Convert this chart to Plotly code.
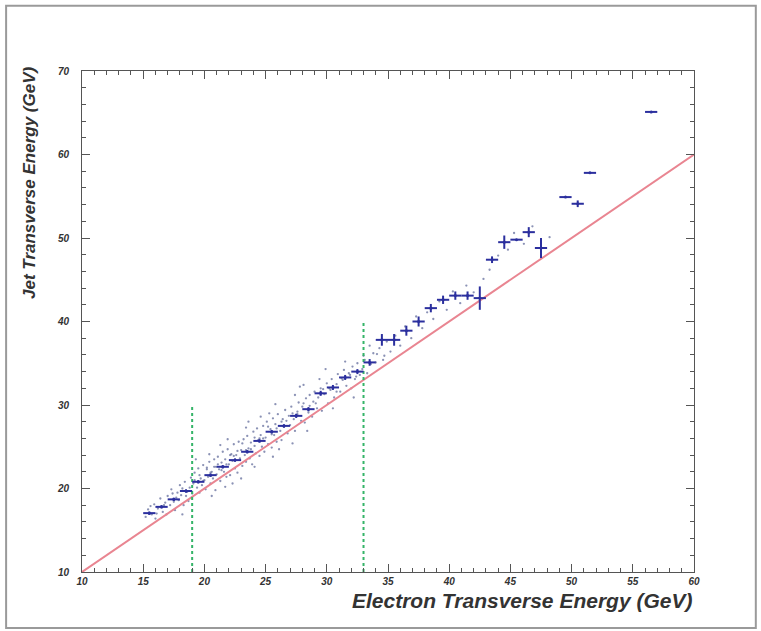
import plotly.graph_objects as go

# Profile: mean jet ET per 1 GeV electron-ET bin
prof_x = [15.5, 16.5, 17.5, 18.5, 19.5, 20.5, 21.5, 22.5, 23.5, 24.5,
          25.5, 26.5, 27.5, 28.5, 29.5, 30.5, 31.5, 32.5, 33.5, 34.5,
          35.5, 36.5, 37.5, 38.5, 39.5, 40.5, 41.5, 42.5, 43.5, 44.5,
          45.5, 46.5, 47.5, 49.5, 50.5, 51.5, 56.5]
prof_y = [17.05, 17.8, 18.7, 19.7, 20.8, 21.6, 22.6, 23.4, 24.4, 25.7,
          26.8, 27.5, 28.7, 29.5, 31.4, 32.1, 33.3, 34.0, 35.1, 37.8,
          37.8, 38.9, 40.0, 41.6, 42.6, 43.1, 43.1, 42.8, 47.4, 49.5,
          49.8, 50.7, 48.8, 54.9, 54.1, 57.8, 65.1]
prof_ex = [0.5, 0.5, 0.5, 0.5, 0.5, 0.5, 0.5, 0.5, 0.5, 0.5,
           0.5, 0.5, 0.5, 0.5, 0.5, 0.5, 0.5, 0.5, 0.5, 0.5,
           0.5, 0.5, 0.5, 0.5, 0.5, 0.5, 0.5, 0.5, 0.5, 0.5,
           0.5, 0.5, 0.5, 0.5, 0.5, 0.5, 0.5]
prof_ey = [0.2, 0.2, 0.2, 0.2, 0.2, 0.2, 0.2, 0.2, 0.2, 0.2,
           0.2, 0.2, 0.25, 0.25, 0.3, 0.3, 0.3, 0.3, 0.4, 0.7,
           0.7, 0.6, 0.6, 0.5, 0.5, 0.5, 0.5, 1.4, 0.4, 0.8,
           0.0, 0.6, 1.2, 0.0, 0.4, 0.0, 0.0]

# Individual events (electron ET, jet ET)
dot_x = [15.2, 15.4, 15.7, 15.9, 16.0, 16.2, 16.4, 16.6, 16.8, 16.9,
         17.0, 17.2, 17.3, 17.5, 17.6, 17.8, 17.9, 18.0, 18.1, 18.3,
         18.4, 18.6, 18.7, 18.9, 18.8, 19.0, 19.1, 19.2, 19.4, 19.5,
         19.6, 19.7, 19.8, 19.9, 20.0, 20.1, 20.2, 20.3, 20.4, 20.5,
         20.6, 20.7, 20.8, 20.9, 20.95, 21.0, 21.1, 21.2, 21.3, 21.4,
         21.5, 21.6, 21.7, 21.8, 21.9, 22.0, 22.1, 22.2, 22.3, 22.4,
         22.5, 22.6, 22.7, 22.8, 22.9, 23.0, 23.1, 23.2, 23.3, 23.4,
         23.5, 23.6, 23.7, 23.8, 23.9, 24.0, 24.1, 24.2, 24.3, 24.4,
         24.5, 24.6, 24.7, 24.8, 24.9, 25.0, 25.1, 25.2, 25.4, 25.5,
         25.6, 25.7, 25.8, 25.9, 26.0, 26.2, 26.3, 26.4, 26.5, 26.6,
         26.8, 26.9, 27.0, 27.1, 27.3, 27.4, 27.6, 27.7, 27.9, 28.0,
         28.2, 28.3, 28.5, 28.6, 28.8, 28.9, 29.0, 29.2, 29.3, 29.5,
         29.6, 29.8, 30.0, 30.1, 30.3, 30.4, 30.6, 30.8, 30.9, 31.1,
         31.2, 31.4, 31.6, 31.8, 32.0, 32.1, 32.3, 32.5, 32.7, 32.9,
         33.1, 33.3, 33.6, 33.8, 34.0, 34.3, 34.6, 34.9, 35.2, 35.6,
         36.0, 36.4, 36.9, 37.3, 37.8, 38.2, 38.7, 39.2, 39.8, 40.3,
         40.9, 41.4, 42.0, 42.8, 43.3, 44.0, 44.8, 45.3, 46.1, 46.8,
         48.2, 18.2, 20.6, 22.3, 24.1, 26.1, 28.4, 30.5, 23.0, 27.2,
         32.2, 21.7, 25.6, 19.3, 21.3, 23.4, 25.3, 27.4, 29.4, 31.5,
         33.5, 28.1, 24.6,
         15.6, 16.1, 16.7, 17.4, 17.7, 18.2, 18.5, 19.2, 19.6, 19.9,
         20.2, 20.5, 20.8, 21.1, 21.4, 21.8, 22.1, 22.4, 22.7, 23.1,
         23.4, 23.8, 24.1, 24.5, 24.8, 25.2, 25.5, 25.9, 26.3, 26.7,
         27.2, 27.6, 28.1, 28.6, 29.1, 29.7, 30.2, 30.8, 31.3, 31.9,
         32.4, 33.0, 34.1, 34.7, 20.4, 21.9, 23.6, 25.8, 27.8, 29.9]
dot_y = [16.6, 17.5, 16.9, 18.1, 16.4, 17.6, 18.8, 17.2, 18.3, 16.9,
         19.1, 18.0, 19.9, 18.4, 17.4, 19.5, 18.6, 20.4, 19.2, 18.0,
         20.8, 19.6, 18.5, 21.3, 20.1, 19.4, 20.6, 21.9, 20.1, 22.4,
         19.5, 21.2, 20.4, 22.8, 21.0, 19.9, 22.3, 21.4, 23.2, 20.6,
         22.0, 21.2, 23.5, 19.8, 22.6, 21.7, 23.8, 22.3, 20.9, 23.1,
         24.4, 22.0, 23.5, 21.4, 24.7, 22.9, 21.6, 24.1, 23.3, 25.3,
         22.4, 24.0, 21.9, 25.6, 23.6, 24.6, 22.7, 25.9, 24.0, 23.2,
         26.3, 24.8, 23.6, 25.5, 22.9, 26.8, 25.1, 24.2, 27.2, 25.8,
         23.9, 26.4, 25.0, 27.5, 24.4, 26.1, 28.0, 25.3, 27.1, 24.9,
         28.4, 26.4, 27.7, 25.6, 28.9, 26.9, 25.8, 28.3, 27.4, 29.4,
         26.6, 28.7, 27.6, 29.8, 28.3, 26.9, 29.2, 30.3, 28.1, 29.8,
         27.9, 30.8, 29.1, 31.2, 28.6, 30.4, 31.6, 29.6, 30.9, 32.0,
         29.3, 31.3, 32.6, 30.2, 31.8, 33.1, 30.9, 32.5, 33.7, 31.6,
         33.2, 34.2, 32.3, 33.8, 32.0, 34.6, 33.1, 35.0, 33.6, 34.3,
         35.4, 33.8, 34.9, 36.2, 35.1, 36.8, 35.4, 37.6, 36.4, 38.3,
         37.1, 39.4, 38.0, 40.6, 39.2, 41.1, 40.3, 42.4, 41.4, 43.6,
         42.2, 44.3, 43.5, 45.1, 46.2, 47.9, 48.6, 50.6, 49.3, 51.4,
         50.1, 16.9, 19.1, 20.6, 22.6, 24.7, 26.9, 29.6, 21.2, 25.4,
         30.9, 20.2, 23.8, 23.5, 25.2, 27.3, 29.0, 31.2, 33.1, 35.2,
         37.1, 32.4, 28.6,
         17.9, 17.0, 18.0, 19.4, 18.9, 20.0, 19.1, 21.0, 21.6, 20.9,
         22.5, 21.9, 22.6, 22.9, 22.2, 22.9, 24.0, 23.9, 24.5, 25.4,
         24.6, 24.7, 26.1, 26.0, 26.0, 27.4, 26.5, 27.2, 28.0, 28.1,
         29.0, 28.9, 30.2, 29.9, 30.2, 31.9, 32.0, 31.6, 33.0, 33.6,
         33.4, 35.9, 36.1, 35.9, 24.1, 25.9, 28.0, 30.1, 32.2, 34.3]

# Reference diagonal (jet ET = electron ET) and ET cut positions
diag_x = [10, 60]
diag_y = [10, 60]
cut_x = [19, 33]
cut_top = [30, 40]

BLUE = "#2b2f9e"
font_ticks = dict(family="Liberation Sans", size=10, color="#333333",
                  weight="bold", style="italic")
font_title = dict(family="Liberation Sans", color="#333333",
                  weight="bold", style="italic")

fig = go.Figure()

fig.add_trace(go.Scatter(
    x=dot_x, y=dot_y, mode="markers",
    marker=dict(size=2.3, color="rgba(90,100,150,0.7)"),
    hoverinfo="skip", showlegend=False))

fig.add_trace(go.Scatter(
    x=diag_x, y=diag_y, mode="lines",
    line=dict(color="#e98591", width=2), showlegend=False))

for cx, ct in zip(cut_x, cut_top):
    fig.add_trace(go.Scatter(
        x=[cx, cx], y=[10, ct], mode="lines",
        line=dict(color="#35b468", width=2, dash="dot"), showlegend=False))

fig.add_trace(go.Scatter(
    x=prof_x, y=prof_y, mode="markers",
    marker=dict(size=3, color=BLUE),
    error_x=dict(type="data", array=prof_ex, color=BLUE, thickness=2, width=0),
    error_y=dict(type="data", array=prof_ey, color=BLUE, thickness=2, width=0),
    showlegend=False))

axis_common = dict(showgrid=False, zeroline=False, showline=True,
                   linecolor="#555555", linewidth=1, mirror="allticks",
                   ticks="inside", tickcolor="#555555", ticklen=8,
                   tickfont=font_ticks)

fig.update_xaxes(range=[10, 60], tick0=10, dtick=5,
                 minor=dict(dtick=1, ticks="inside", ticklen=4,
                            tickcolor="#555555"),
                 **axis_common)
fig.update_yaxes(range=[10, 70], tick0=10, dtick=10,
                 minor=dict(dtick=2, ticks="inside", ticklen=4,
                            tickcolor="#555555"),
                 ticklabelstandoff=10,
                 **axis_common)

fig.add_annotation(text="Electron Transverse Energy (GeV)",
                   xref="paper", yref="paper", x=1.0, y=-0.056,
                   xanchor="right", yanchor="middle", showarrow=False,
                   font=dict(size=21, **font_title))
fig.add_annotation(text="Jet Transverse Energy (GeV)",
                   xref="paper", yref="paper", x=-0.085, y=1.012,
                   xanchor="center", yanchor="top", textangle=-90,
                   showarrow=False, font=dict(size=17, **font_title))

# Outer frame around the whole figure
fig.add_shape(type="rect", xref="paper", yref="paper",
              x0=-0.124, x1=1.101, y0=-0.112, y1=1.130,
              line=dict(color="#9a9a9a", width=2))

fig.update_layout(width=761, height=631,
                  margin=dict(l=82, r=67, t=71, b=59),
                  paper_bgcolor="white", plot_bgcolor="white")

fig.write_html("out.html")
